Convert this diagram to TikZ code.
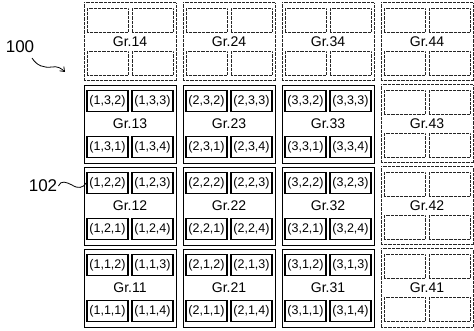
\documentclass[tikz,border=0pt]{standalone}
\usepackage{fontspec}
\setsansfont{Liberation Sans}
\usepackage{tikz}
\usetikzlibrary{arrows.meta, positioning}

\begin{document}
\begin{tikzpicture}[
        x=1pt, y=-1pt,
        font=\sffamily,
        >={Straight Barb[length=4pt, width=6pt]},
        grp/.style={draw, line width=0.9pt, minimum width=92pt, minimum height=78pt,
                    inner sep=0pt, font=\sffamily\fontsize{14}{15}\selectfont},
        grpdot/.style={grp, draw=black!85, line width=1pt, dash pattern=on 0.5pt off 0.8pt},
        cell/.style={draw, line width=1.5pt, minimum width=41pt, minimum height=21pt,
                     inner sep=0pt, font=\sffamily\fontsize{12.5}{13}\selectfont},
        celldot/.style={draw=black!85, line width=1pt, dash pattern=on 0.5pt off 0.8pt,
                        minimum width=41pt, minimum height=24pt, inner sep=0pt},
        refnum/.style={font=\sffamily\fontsize{17}{18}\selectfont, inner sep=1pt},
        wave/.style={draw, line width=0.8pt}
    ]
      \useasboundingbox (0,0) rectangle (474,331);

      % --- Used groups (solid) ---
      \foreach \i in {1,2,3}{
        \foreach \j in {1,2,3}{
          \begin{scope}[shift={({130+99*(\i-1)},{42+82*(4-\j)})}]
            \node[grp] (g\i\j) at (0,0) {Gr.\i\j};
            \node[cell] (c\i\j2) at (-22.5,-23) {(\i,\j,2)};
            \node[cell] (c\i\j3) at (22.5,-23) {(\i,\j,3)};
            \node[cell] (c\i\j1) at (-22.5,23) {(\i,\j,1)};
            \node[cell] (c\i\j4) at (22.5,23) {(\i,\j,4)};
          \end{scope}
        }
      }

      % --- Unused groups (dotted): top row and right column ---
      \foreach \i/\j in {1/4, 2/4, 3/4, 4/4, 4/3, 4/2, 4/1}{
        \begin{scope}[shift={({130+99*(\i-1)},{42+82*(4-\j)})}]
          \node[grpdot] (g\i\j) at (0,0) {Gr.\i\j};
          \node[celldot] (c\i\j2) at (-22.5,-21.5) {};
          \node[celldot] (c\i\j3) at (22.5,-21.5) {};
          \node[celldot] (c\i\j1) at (-22.5,21.5) {};
          \node[celldot] (c\i\j4) at (22.5,21.5) {};
        \end{scope}
      }

      % --- Reference numerals ---
      \node[refnum] (n100) at (20,47) {100};
      \coordinate (p100) at (65,72);
      \draw[wave, ->] (32,58) .. controls (37,66) and (44,68) .. (52,67)
                      .. controls (57,66) and (61,68) .. (p100);

      \node[refnum] (n102) at (43,186) {102};
      \draw[wave] (n102.east) .. controls (61,180) and (66,182) .. (72,185)
                  .. controls (78,189) and (83,188) .. (c122.west);
    \end{tikzpicture}
\end{document}
